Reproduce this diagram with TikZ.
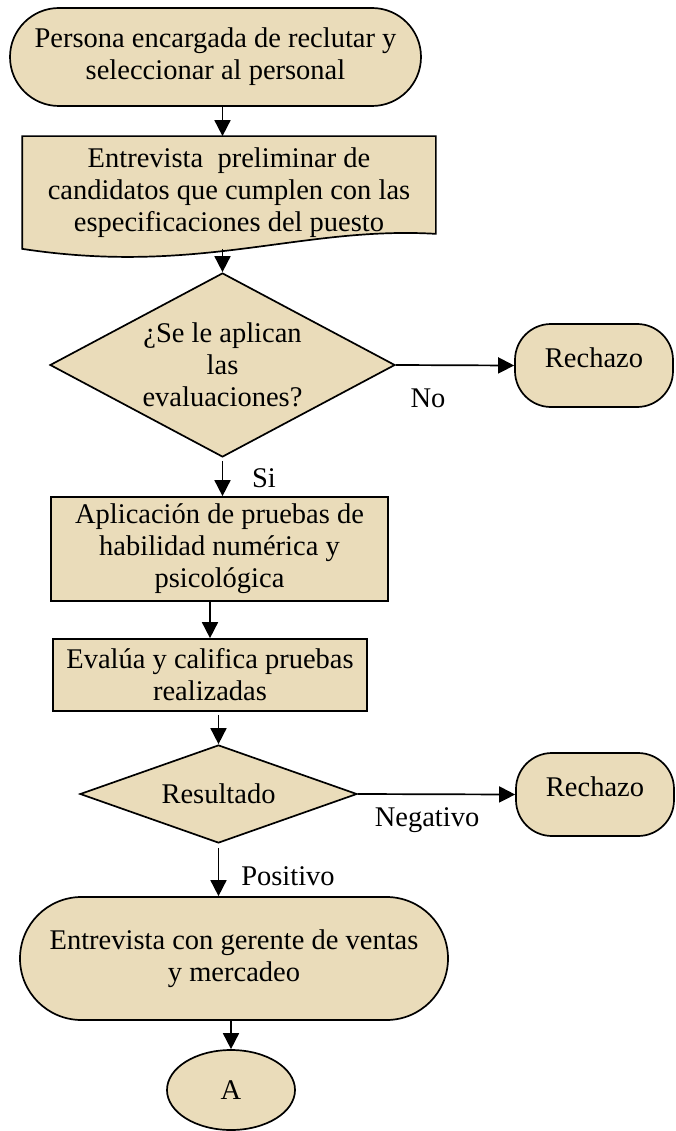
\documentclass[tikz,border=0pt]{standalone}
\usepackage{fontspec}
\setmainfont{Liberation Serif}
\usetikzlibrary{shapes.geometric,arrows.meta,calc,backgrounds}
\definecolor{parch}{RGB}{234,220,186}
\tikzset{
  base/.style={draw=black, line width=1.7pt, fill=parch, align=center, inner sep=0pt,
    font=\fontsize{28.5}{32}\selectfont},
  terminal/.style={base, rectangle},
  procbox/.style={base, rectangle},
  decision/.style={base, diamond},
  rejectbox/.style={base, rectangle, rounded corners=36pt, minimum width=158pt,
    minimum height=83pt, text height=20pt, text depth=17pt},
  connector/.style={base, ellipse, minimum width=128pt, minimum height=80pt},
  lbl/.style={font=\fontsize{28.5}{32}\selectfont, inner sep=0pt},
  flow/.style={line width=1.7pt, -{Triangle[length=16pt,width=16pt]}},
}
\begin{document}
\begin{tikzpicture}[x=1pt,y=-1pt]
\useasboundingbox (0,0) rectangle (675,1131);

% start terminal
\node[terminal, minimum width=411pt, minimum height=98pt, rounded corners=49pt]
  (t1) at (215.5,57) {Persona encargada de reclutar y\\seleccionar al personal};

% document step (wavy bottom drawn behind the text)
\node[base, draw=none, fill=none, minimum width=412pt, minimum height=111pt]
  (doc) at (229,192.5) {Entrevista\ \ preliminar de\\candidatos que cumplen con las\\especificaciones del puesto};
\begin{pgfonlayer}{background}
\path[draw=black, line width=1.7pt, fill=parch]
  (doc.north west) -- (doc.north east) -- ([yshift=15pt]doc.south east)
  .. controls ([xshift=-135pt,yshift=23pt]doc.south east)
  and ([xshift=177pt,yshift=-27pt]doc.south west) .. (doc.south west) -- cycle;
\end{pgfonlayer}

% first decision
\node[decision, minimum width=345pt, minimum height=184pt, aspect=1.875]
  (d1) at (222.5,365) {¿Se le aplican\\las\\evaluaciones?};
\node[rejectbox] (r1) at (594,365.5) {Rechazo};

% tests
\node[procbox, minimum width=337pt, minimum height=104pt]
  (a1) at (219.5,549) {Aplicación de pruebas de\\habilidad numérica y\\psicológica};
\node[procbox, minimum width=314pt, minimum height=72pt]
  (e1) at (210,675) {Evalúa y califica pruebas\\realizadas};

% second decision
\node[decision, minimum width=277pt, minimum height=98pt, aspect=2.83]
  (d2) at (218.5,794) {Resultado};
\node[rejectbox] (r2) at (595,794.5) {Rechazo};

% final interview and off-page connector
\node[terminal, minimum width=428pt, minimum height=123pt, rounded corners=61.5pt]
  (t2) at (234,958.5) {Entrevista con gerente de ventas\\y mercadeo};
\node[connector] (A) at (231,1090) {A};

% connectors
\draw[flow] (d1.north |- t1.south) -- (d1.north |- doc.north);
\draw[flow] (d1.north |- doc.south) -- (d1.north);
\draw[flow, shorten <=3pt] (d1.south) -- (d1.south |- a1.north);
\draw[flow] (d1.east) -- (r1.west);
\draw[flow] (e1.north |- a1.south) -- (e1.north);
\draw[flow, shorten <=3pt] (d2.north |- e1.south) -- (d2.north);
\draw[flow] (d2.east) -- (r2.west);
\draw[flow, shorten <=4pt] (d2.south) -- (d2.south |- t2.north);
\draw[flow] (A.north |- t2.south) -- (A.north);

% branch labels
\node[lbl] (lno) at (428,398) {No};
\node[lbl] (lsi) at (264,478) {Si};
\node[lbl] (lneg) at (427,820) {Negativo};
\node[lbl] (lpos) at (288,876) {Positivo};
\end{tikzpicture}
\end{document}
